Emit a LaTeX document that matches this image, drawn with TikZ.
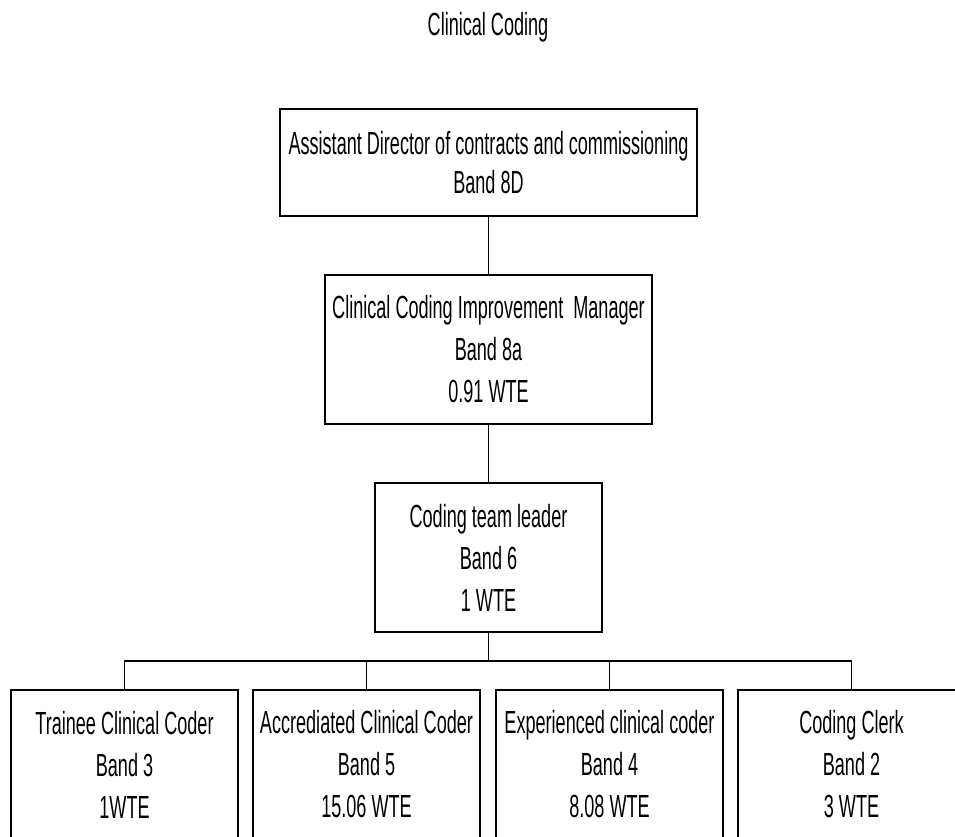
\documentclass[tikz,border=0pt]{standalone}
\usepackage{fontspec}
\setmainfont{Liberation Sans}[FakeStretch=0.565]
\begin{document}
\begin{tikzpicture}[x=1pt,y=-1pt,
  box/.style={draw=black, line width=1.8pt, fill=white, inner sep=0pt, align=center,
    minimum height=149pt, minimum width=227pt,
    font=\fontsize{32}{42}\selectfont},
  link/.style={draw=black, line width=1.1pt}]
\clip (0,0) rectangle (955,836);
\fill[white] (0,0) rectangle (955,836);
\node[anchor=base, font=\fontsize{32}{42}\selectfont] (title) at (488,35) {Clinical Coding};
\node[box, minimum width=417pt, minimum height=107pt, font=\fontsize{32}{39}\selectfont] (ad) at (488.5,162.5)
  {Assistant Director of contracts and commissioning\\Band 8D};
\node[box, minimum width=327pt] (ccim) at (488.5,349.5)
  {Clinical Coding Improvement\ \ Manager\\Band 8a\\0.91 WTE};
\node[box] (ctl) at (488.5,557.5) {Coding team leader\\Band 6\\1 WTE};
\node[box] (tcc) at (124.5,764.5) {Trainee Clinical Coder\\Band 3\\1WTE};
\node[box] (acc) at (366.5,764.5) {Accrediated Clinical Coder\\Band 5\\15.06 WTE};
\node[box] (ecc) at (609.5,764.5) {Experienced clinical coder\\Band 4\\8.08 WTE};
\node[box] (cc) at (851.5,764.5) {Coding Clerk\\Band 2\\3 WTE};
\coordinate (bus) at (488.5,661);
\draw[link] (ad.south) -- (ccim.north);
\draw[link] (ccim.south) -- (ctl.north);
\draw[link] (ctl.south) -- (bus);
\draw[link] (tcc.north) |- (bus);
\draw[link] (acc.north) -- (acc.north |- bus);
\draw[link] (ecc.north) -- (ecc.north |- bus);
\draw[link] (cc.north) |- (bus);
\end{tikzpicture}
\end{document}
